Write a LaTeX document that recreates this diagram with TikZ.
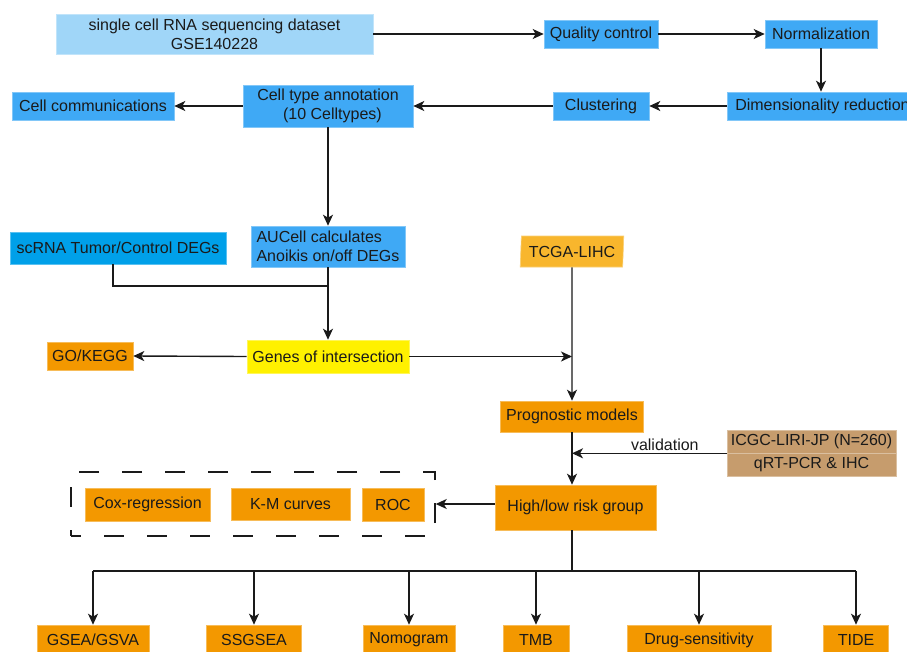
\documentclass[tikz,border=0pt]{standalone}
\usepackage{fontspec}
\setmainfont{Liberation Sans}
\usetikzlibrary{arrows.meta,shapes.geometric}
\definecolor{lblue}{HTML}{A0D6F8}
\definecolor{mblue}{HTML}{3FA9F5}
\definecolor{cblue}{HTML}{00A0E9}
\definecolor{yel}{HTML}{FFF100}
\definecolor{org}{HTML}{F39800}
\definecolor{lorg}{HTML}{F8B62D}
\definecolor{tanc}{HTML}{C69C6D}
\definecolor{ink}{HTML}{1A1A1A}
\begin{document}
\begin{tikzpicture}[x=1pt,y=-1pt,
  fbox/.style={inner sep=0pt, font=\fontsize{16}{19}\selectfont, text=ink, align=center,
    fill=#1, draw=#1!65!white, line width=0.6pt},
  conn/.style={line width=1.4pt, draw=ink},
  arr/.style={conn, -{Stealth[length=11pt,width=10pt,inset=3pt]}}
]
\clip (0,0) rectangle (907,651);
\fill[white] (0,0) rectangle (907,651);
% top row
\node[fbox=lblue, minimum width=317pt, minimum height=40pt] (sc) at (214.5,34) {single cell RNA sequencing dataset\\GSE140228};
\node[fbox=mblue, minimum width=114pt, minimum height=28pt] (qc) at (601,34) {Quality control};
\node[fbox=mblue, minimum width=112pt, minimum height=28pt] (norm) at (821,34) {Normalization};
% second row
\node[fbox=mblue, anchor=west, inner xsep=8pt, minimum height=28pt] (dim) at (727,106) {Dimensionality reduction};
\node[fbox=mblue, minimum width=96pt, minimum height=28pt] (clus) at (601,106) {Clustering};
\node[fbox=mblue, minimum width=170pt, minimum height=42pt] (cta) at (328,106) {Cell type annotation\\\ \ (10 Celltypes)};
\node[fbox=mblue, minimum width=162pt, minimum height=28pt] (cc) at (93,106) {Cell communications};
% third row
\node[fbox=cblue, minimum width=216pt, minimum height=32pt] (scrna) at (118,248) {scRNA Tumor/Control DEGs};
\node[fbox=mblue, align=left, inner xsep=5pt, minimum width=154pt, minimum height=41pt] (auc) at (328,246.5) {AUCell calculates\\Anoikis on/off DEGs};
\node[fbox=lorg, trapezium, trapezium left angle=85, trapezium right angle=95, trapezium stretches=true, minimum width=104pt, minimum height=31pt] (tcga) at (572,251.5) {TCGA-LIHC};
% fourth row
\node[fbox=yel, minimum width=162pt, minimum height=33pt] (genes) at (328,356.5) {Genes of intersection};
\node[fbox=org, minimum width=86pt, minimum height=28pt] (go) at (90,356) {GO/KEGG};
\node[fbox=org, minimum width=143pt, minimum height=31pt] (prog) at (572,416.5) {Prognostic models};
\node[fbox=tanc, minimum width=169pt, minimum height=23pt] (icgc) at (811.5,441.5) {ICGC-LIRI-JP (N=260)};
\node[fbox=tanc, minimum width=169pt, minimum height=23pt] (qrt) at (811.5,464.5) {qRT-PCR \& IHC};
% risk group row
\node[fbox=org, minimum width=161pt, minimum height=45pt] (hl) at (575.5,507.5) {High/low risk group};
\node[draw=ink, line width=1.4pt, dash pattern=on 20pt off 23pt, dash phase=10pt, minimum width=364pt, minimum height=64pt, inner sep=0pt] (dbox) at (253,504) {};
\node[fbox=org, minimum width=125pt, minimum height=33pt] (cox) at (147.5,504.5) {Cox-regression};
\node[fbox=org, minimum width=119pt, minimum height=32pt] (km) at (290.5,504) {K-M curves};
\node[fbox=org, minimum width=62pt, minimum height=33pt] (roc) at (393,504.5) {ROC};
% bottom row
\node[fbox=org, minimum width=112pt, minimum height=30pt] (gsea) at (93,640) {GSEA/GSVA};
\node[fbox=org, minimum width=95pt, minimum height=30pt] (ssg) at (254,640) {SSGSEA};
\node[fbox=org, minimum width=92pt, minimum height=30pt] (nomo) at (409,640) {Nomogram};
\node[fbox=org, minimum width=66pt, minimum height=30pt] (tmb) at (536,640) {TMB};
\node[fbox=org, minimum width=144pt, minimum height=30pt] (drug) at (699,640) {Drug-sensitivity};
\node[fbox=org, minimum width=65pt, minimum height=30pt] (tide) at (856,640) {TIDE};
\coordinate (j1) at (328,286);
\coordinate (bus) at (575.5,571);
% connectors
\draw[arr] (sc.east) -- (qc.west);
\draw[arr] (qc.east) -- (norm.west);
\draw[arr] (norm.south) -- (norm.south |- dim.north);
\draw[arr] (dim.west) -- (clus.east);
\draw[arr] (clus.west) -- (cta.east);
\draw[arr] (cta.west) -- (cc.east);
\draw[arr] (cta.south) -- (auc.north);
\draw[conn] ([xshift=-5pt]scrna.south) |- (j1);
\draw[arr] (auc.south) -- (genes.north);
\draw[arr] (genes.west) -- (go.east);
\draw[arr] (genes.east) -- (genes.east -| tcga.south);
\draw[arr] (tcga.south) -- (prog.north);
\draw[arr] (prog.south) -- (prog.south |- hl.north);
\draw[arr] (icgc.south west) -- (icgc.south west -| prog.south)
  node[pos=0.4, above, inner sep=2pt, font=\fontsize{16}{19}\selectfont, text=ink] {validation};
\draw[arr] (hl.west |- dbox.east) -- (dbox.east);
\draw[conn] (hl.south -| prog.south) -- (prog.south |- bus);
\draw[conn] (gsea.north |- bus) -- (tide.north |- bus);
\foreach \n in {gsea,ssg,nomo,tmb,drug,tide}{
  \draw[arr] (\n.north |- bus) -- (\n.north);
}
\end{tikzpicture}
\end{document}
